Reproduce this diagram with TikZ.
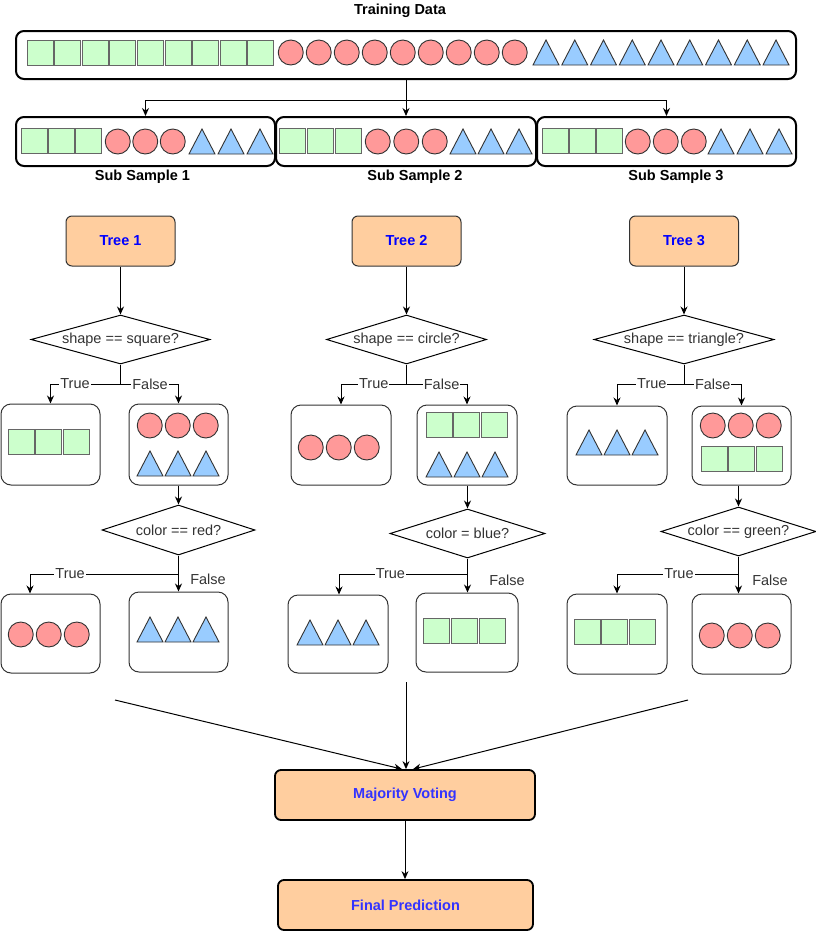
\documentclass[tikz,border=0pt]{standalone}
\usepackage{fontspec}
\setmainfont{Liberation Sans}
\usetikzlibrary{shapes.geometric,arrows.meta,calc}
\definecolor{sqfill}{HTML}{CCFFCC}
\definecolor{cifill}{HTML}{FF9999}
\definecolor{trfill}{HTML}{99CCFF}
\definecolor{treefill}{HTML}{FFCE9F}
\definecolor{treetext}{HTML}{0000FF}
\definecolor{votetext}{HTML}{3333FF}
\definecolor{edgec}{HTML}{333333}
\newcommand\SqRow[4]{\foreach \i in {1,...,#3}{\draw[sqs] ({#1+(\i-1)*#4},#2) rectangle ++(26,25);}}
\newcommand\CiRow[4]{\foreach \i in {1,...,#3}{\draw[cis] ({#1+(\i-1)*#4+12.75},{#2+12.5}) circle (12.5pt);}}
\newcommand\TrRow[4]{\foreach \i in {1,...,#3}{\draw[trs] ({#1+(\i-1)*#4},{#2+25}) -- ++(13,-25) -- ++(13,25) -- cycle;}}
\tikzset{
 txt/.style={font=\fontsize{14.5}{17}\selectfont},
 ttl/.style={font=\fontsize{14.5}{17}\selectfont\bfseries},
 databox/.style={draw=black, line width=2pt, rounded corners=8pt, inner sep=0pt},
 treebox/.style={draw=edgec, line width=1pt, fill=treefill, rounded corners=6pt, minimum width=109pt, minimum height=50pt, font=\fontsize{14.5}{17}\selectfont\bfseries, text=treetext},
 votebox/.style={draw=black, line width=1.8pt, fill=treefill, rounded corners=6pt, minimum height=50pt, font=\fontsize{14.5}{17}\selectfont\bfseries, text=votetext},
 dia/.style={diamond, draw=black, line width=1pt, fill=white, inner sep=0pt, aspect=3.4, minimum height=49pt, font=\fontsize{14.5}{17}\selectfont, text=edgec},
 leaf/.style={draw=edgec, line width=1pt, rounded corners=10pt, minimum width=100pt, minimum height=80pt},
 arr/.style={draw=black, line width=1pt, -{Stealth[length=8pt,width=7pt]}},
 seg/.style={draw=black, line width=1pt},
 lbl/.style={fill=white, inner sep=1pt, font=\fontsize{14.5}{17}\selectfont, text=edgec},
 lblp/.style={inner sep=1pt, font=\fontsize{14.5}{17}\selectfont, text=edgec},
 sqs/.style={draw=black!60, fill=sqfill, line width=1pt},
 cis/.style={draw=black!80, fill=cifill, line width=0.9pt},
 trs/.style={draw=black!80, fill=trfill, line width=0.9pt},
}
\begin{document}
\begin{tikzpicture}[x=1pt,y=-1pt]
\useasboundingbox (0,0) rectangle (816,932);
% training data
\node[ttl] (tdl) at (400,11) {Training Data};
\node[databox, minimum width=780pt, minimum height=48pt] (td) at (406,55) {};
\SqRow{27}{40}{9}{27.6}
\CiRow{278}{40}{9}{28}
\TrRow{533}{40}{9}{28.75}
% sub samples
\node[databox, minimum width=259pt, minimum height=49pt] (sb1) at (145.5,141.5) {};
\node[databox, minimum width=260pt, minimum height=49pt] (sb2) at (406,141.5) {};
\node[databox, minimum width=259pt, minimum height=49pt] (sb3) at (666.5,141.5) {};
\SqRow{21}{128}{3}{27}\CiRow{105}{129}{3}{27.5}\TrRow{189}{129}{3}{29}
\SqRow{279}{128}{3}{28}\CiRow{365}{129}{3}{28.5}\TrRow{450}{129}{3}{28}
\SqRow{542}{128}{3}{27}\CiRow{625}{129}{3}{28}\TrRow{708}{129}{3}{29}
\node[ttl] (ss1) at (142.5,177) {Sub Sample 1};
\node[ttl] (ss2) at (415,177) {Sub Sample 2};
\node[ttl] (ss3) at (676,177) {Sub Sample 3};
\coordinate (sp) at (406,100);
\draw[seg] (td.south) -- (sp);
\draw[arr] (sp) -| (sb1.north);
\draw[arr] (sp) -- (sb2.north);
\draw[arr] (sp) -| (sb3.north);
% trees
\node[treebox] (t1) at (120.5,241) {Tree 1};
\node[treebox] (t2) at (406.5,241) {Tree 2};
\node[treebox] (t3) at (684,241) {Tree 3};
\node[dia, minimum width=179pt] (d1) at (120.5,339.5) {shape == square?};
\node[dia, minimum width=160pt] (d2) at (406.5,339.5) {shape == circle?};
\node[dia, minimum width=180pt] (d3) at (684,339.5) {shape == triangle?};
\draw[arr] (t1) -- (d1);
\draw[arr] (t2) -- (d2);
\draw[arr] (t3) -- (d3);
% leaves level 1
\node[leaf, minimum width=99pt, minimum height=81pt] (l1a) at (50.5,444.5) {};
\node[leaf, minimum width=99pt, minimum height=81pt] (l1b) at (178.5,444.5) {};
\node[leaf] (l2a) at (341,445) {};
\node[leaf] (l2b) at (467,445) {};
\node[leaf, minimum height=79pt] (l3a) at (617,445.5) {};
\node[leaf, minimum width=99pt, minimum height=79pt] (l3b) at (741.5,445.5) {};
\coordinate (b1) at (120.5,384);
\coordinate (b2) at (406.5,384);
\coordinate (b3) at (684,384);
\draw[seg] (d1.south) -- (b1);
\draw[arr] (b1) -| node[lbl,pos=0.325] (lt1) {True} (l1a.north);
\draw[arr] (b1) -| node[lbl,pos=0.255] (lf1) {False} (l1b.north);
\draw[seg] (d2.south) -- (b2);
\draw[arr] (b2) -| node[lbl,pos=0.25] (lt2) {True} (l2a.north);
\draw[arr] (b2) -| node[lbl,pos=0.29] (lf2) {False} (l2b.north);
\draw[seg] (d3.south) -- (b3);
\draw[arr] (b3) -| node[lbl,pos=0.24] (lt3) {True} (l3a.north);
\draw[arr] (b3) -| node[lbl,pos=0.25] (lf3) {False} (l3b.north);
\SqRow{8}{429}{3}{27.5}
\CiRow{137}{413}{3}{28}\TrRow{137}{451}{3}{28}
\CiRow{298}{435}{3}{28}
\SqRow{426}{412}{3}{27.5}\TrRow{426}{452}{3}{28}
\TrRow{576}{430}{3}{28}
\CiRow{700}{413}{3}{28}\SqRow{701}{446}{3}{27.5}
% second decisions
\node[dia, minimum width=153pt, minimum height=50pt] (e1) at (178.5,530) {color == red?};
\node[dia, minimum width=155pt] (e2) at (467.5,533.5) {color = blue?};
\node[dia, minimum width=155pt] (e3) at (738.5,531.5) {color == green?};
\draw[arr] (l1b.south) -- (e1.north);
\draw[arr] (e2.north |- l2b.south) -- (e2.north);
\draw[arr] (e3.north |- l3b.south) -- (e3.north);
% leaves level 2
\node[leaf, minimum width=99pt, minimum height=79pt] (l1c) at (50.5,633.5) {};
\node[leaf, minimum width=99pt, minimum height=80pt] (l1d) at (178.5,632) {};
\node[leaf, minimum height=78pt] (l2c) at (338,634) {};
\node[leaf, minimum width=102pt, minimum height=79pt] (l2d) at (467,632.5) {};
\node[leaf] (l3c) at (617,634) {};
\node[leaf, minimum width=99pt] (l3d) at (741.5,634) {};
\coordinate (c1) at (178.5,574);
\coordinate (c2) at (467.5,574);
\coordinate (c3) at (738.5,574);
\draw[seg] (e1.south) -- (c1);
\draw[arr] (c1) -| node[lbl,pos=0.365] (lt4) {True} ([xshift=-20.5pt]l1c.north);
\draw[arr] (c1) -- (c1 |- l1d.north);
\node[lblp] (lf4) at (208,579) {False};
\draw[seg] (e2.south) -- (c2);
\draw[arr] (c2) -| node[lbl,pos=0.3] (lt5) {True} ([xshift=1pt]l2c.north);
\draw[arr] (c2) -- (c2 |- l2d.north);
\node[lblp] (lf5) at (507,580) {False};
\draw[seg] (e3.south) -- (c3);
\draw[arr] (c3) -| node[lbl,pos=0.245] (lt6) {True} (l3c.north);
\draw[arr] (c3) -- (c3 |- l3d.north);
\node[lblp] (lf6) at (770,580) {False};
\CiRow{8}{622}{3}{28}
\TrRow{137}{617}{3}{28}
\TrRow{297}{620}{3}{28}
\SqRow{423}{618}{3}{28}
\SqRow{574}{619}{3}{27.5}
\CiRow{699}{623}{3}{28}
% voting
\node[votebox, minimum width=260pt] (mv) at (405,795) {Majority Voting};
\node[votebox, minimum width=255pt] (fp) at (405.5,905) {Final Prediction};
\coordinate (v0) at (406,682);
\coordinate (v1) at (115,700);
\coordinate (v2) at (688,700);
\draw[arr] (v0) -- (v0 |- mv.north);
\draw[arr] (v1) -- ([xshift=-3pt]mv.north);
\draw[arr] (v2) -- ([xshift=8pt]mv.north);
\draw[arr] (mv.south) -- (mv.south |- fp.north);
\end{tikzpicture}
\end{document}
